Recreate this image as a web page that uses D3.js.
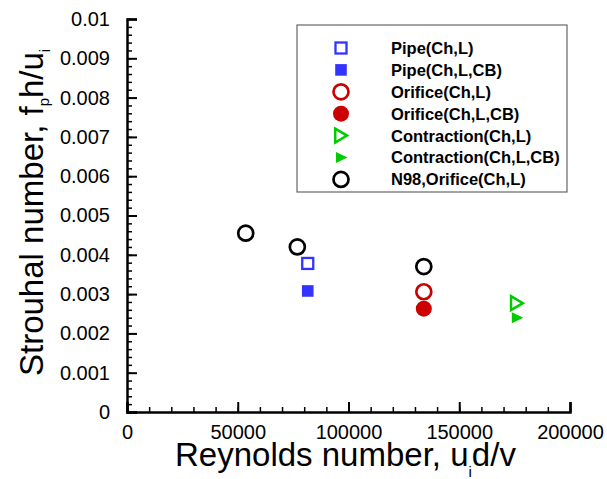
<!DOCTYPE html>
<html>
<head>
<meta charset="utf-8">
<script src="https://cdn.jsdelivr.net/npm/d3@7/dist/d3.min.js"></script>
<style>
  html, body { margin: 0; padding: 0; background: #fff; }
  svg { display: block; font-family: "Liberation Sans", Arial, sans-serif; }
</style>
</head>
<body>
<svg id="chart" width="607" height="479"></svg>
<script>
// Series: Reynolds number (x) and Strouhal number (y)
const seriesNames = ["Pipe(Ch,L)", "Pipe(Ch,L,CB)", "Orifice(Ch,L)", "Orifice(Ch,L,CB)",
                     "Contraction(Ch,L)", "Contraction(Ch,L,CB)", "N98,Orifice(Ch,L)"];
const pipeOpen      = [[81600, 0.00378]];
const pipeFilled    = [[81600, 0.00308]];
const orificeOpen   = [[134000, 0.00306]];
const orificeFilled = [[134000, 0.00263]];
const contrOpen     = [[176000, 0.00277]];
const contrFilled   = [[176000, 0.00240]];
const n98Orifice    = [[53600, 0.00455], [76900, 0.00420], [134000, 0.00370]];

const xTicks = [0, 50000, 100000, 150000, 200000];
const yTicks = [0, 0.001, 0.002, 0.003, 0.004, 0.005, 0.006, 0.007, 0.008, 0.009, 0.01];

const BLUE = "#3333ff", RED = "#cc0000", GREEN = "#00cc00", BLACK = "#000000";

const styles = [
  { name: seriesNames[0], data: pipeOpen,      shape: "square",   fill: false, color: BLUE },
  { name: seriesNames[1], data: pipeFilled,    shape: "square",   fill: true,  color: BLUE },
  { name: seriesNames[2], data: orificeOpen,   shape: "circle",   fill: false, color: RED },
  { name: seriesNames[3], data: orificeFilled, shape: "circle",   fill: true,  color: RED },
  { name: seriesNames[4], data: contrOpen,     shape: "triangle", fill: false, color: GREEN },
  { name: seriesNames[5], data: contrFilled,   shape: "triangle", fill: true,  color: GREEN },
  { name: seriesNames[6], data: n98Orifice,    shape: "circle",   fill: false, color: BLACK }
];

const svg = d3.select("#chart");
const plotLeft = 127, plotRight = 570, plotTop = 19, plotBottom = 412;

const x = d3.scaleLinear().domain([0, 200000]).range([plotLeft, plotRight]);
const y = d3.scaleLinear().domain([0, 0.01]).range([plotBottom, plotTop]);

// Axes with inward ticks: majors plus minor subdivisions
const xMinor = d3.range(0, 200001, 10000);
const yMinor = d3.range(0, 51).map(i => i * 0.0002);

const gx = svg.append("g").attr("transform", `translate(0,${plotBottom})`);
gx.call(d3.axisBottom(x).tickValues(xMinor).tickSize(-5).tickFormat(""));
gx.call(g => g.selectAll(".tick line").attr("stroke-width", 1.5));
const gxMaj = svg.append("g").attr("transform", `translate(0,${plotBottom})`);
gxMaj.call(d3.axisBottom(x).tickValues(xTicks).tickSize(-10).tickPadding(13).tickFormat(d3.format("d")));
gxMaj.select(".domain").attr("stroke-width", 2.5);
gxMaj.selectAll(".tick line").attr("stroke-width", 2);
gxMaj.selectAll(".tick text").attr("font-size", 20).attr("font-family", "Liberation Sans, Arial, sans-serif").attr("dy", "0.71em");

const gy = svg.append("g").attr("transform", `translate(${plotLeft},0)`);
gy.call(d3.axisLeft(y).tickValues(yMinor).tickSize(-5).tickFormat(""));
gy.call(g => g.selectAll(".tick line").attr("stroke-width", 1.5));
const gyMaj = svg.append("g").attr("transform", `translate(${plotLeft},0)`);
gyMaj.call(d3.axisLeft(y).tickValues(yTicks).tickSize(-10).tickPadding(17)
  .tickFormat(d => d === 0 ? "0" : d3.format("")(+d.toFixed(3))));
gyMaj.select(".domain").attr("stroke-width", 2.5);
gyMaj.selectAll(".tick line").attr("stroke-width", 2);
gyMaj.selectAll(".tick text").attr("font-size", 20).attr("font-family", "Liberation Sans, Arial, sans-serif");
svg.selectAll(".domain").attr("stroke", "#000");

// Axis titles
const xt = svg.append("text").attr("x", 175).attr("y", 466).attr("text-anchor", "start")
  .attr("font-size", 33).attr("fill", "#000");
xt.append("tspan").text("Reynolds number, u");
xt.append("tspan").attr("font-size", 15).attr("dy", 11).text("i");
xt.append("tspan").attr("dy", -11).text("d/v");

const yt = svg.append("text").attr("transform", "translate(43,376) rotate(-90)")
  .attr("text-anchor", "start").attr("font-size", 33).attr("fill", "#000");
yt.append("tspan").text("Strouhal number, f");
yt.append("tspan").attr("font-size", 15).attr("dy", 6).text("p");
yt.append("tspan").attr("dy", -6).text("h/u");
yt.append("tspan").attr("font-size", 15).attr("dy", 7).text("i");

// Marker drawing
function drawMarker(g, s, cx, cy) {
  const fill = s.fill ? s.color : "none";
  if (s.shape === "circle") {
    if (s.fill) {
      g.append("circle").attr("cx", cx).attr("cy", cy).attr("r", 8).attr("fill", fill);
    } else {
      g.append("circle").attr("cx", cx).attr("cy", cy).attr("r", 7.5)
        .attr("fill", "none").attr("stroke", s.color).attr("stroke-width", 2.7);
    }
  } else if (s.shape === "square") {
    const h = s.fill ? 5.8 : 5.5;
    g.append("rect").attr("x", cx - h).attr("y", cy - h).attr("width", 2 * h).attr("height", 2 * h)
      .attr("fill", fill).attr("stroke", s.fill ? "none" : s.color).attr("stroke-width", s.fill ? 0 : 2.3);
  } else {
    const pts = s.fill
      ? [[cx - 5, cy - 5.5], [cx + 6.5, cy], [cx - 5, cy + 5.5]]
      : [[cx - 5.8, cy - 7], [cx + 6, cy], [cx - 5.8, cy + 7]];
    g.append("polygon").attr("points", pts.map(p => p.join(",")).join(" "))
      .attr("fill", fill).attr("stroke", s.fill ? "none" : s.color).attr("stroke-width", s.fill ? 0 : 2.5)
      .attr("stroke-linejoin", "miter");
  }
}

const plot = svg.append("g");
styles.forEach(s => {
  s.data.forEach(d => drawMarker(plot, s, x(d[0]), y(d[1])));
});

// Legend
const lg = svg.append("g");
lg.append("rect").attr("x", 297).attr("y", 25).attr("width", 270).attr("height", 167)
  .attr("fill", "#fff").attr("stroke", "#666").attr("stroke-width", 1.2);
styles.forEach((s, i) => {
  const cy = 48 + i * 21.9;
  drawMarker(lg, s, 341, cy);
  lg.append("text").attr("x", 391).attr("y", cy).attr("dy", "0.36em")
    .attr("font-size", 16.5).attr("font-weight", "bold").attr("fill", "#000").text(s.name);
});
</script>
</body>
</html>
